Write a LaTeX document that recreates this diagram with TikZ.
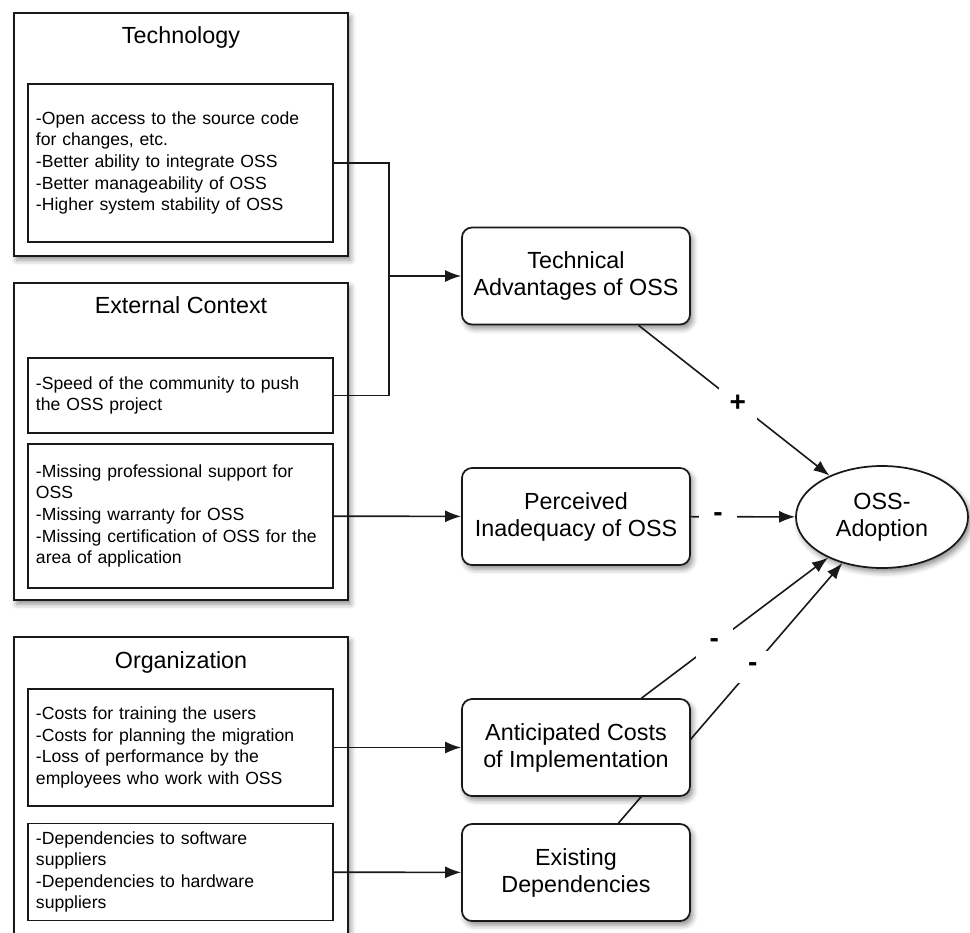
\documentclass[tikz,border=0pt]{standalone}
\usepackage{fontspec}
\setmainfont{Liberation Sans}
\usetikzlibrary{positioning, shapes.geometric, shadows.blur, arrows.meta, backgrounds}

\tikzset{
	shade/.style={blur shadow={shadow xshift=2pt, shadow yshift=-3pt, shadow blur radius=4pt, shadow opacity=45}},
	outerbox/.style={draw=black!90, line width=1.5pt, fill=white, minimum width=250.5pt, shade},
	title/.style={font=\fontsize{17.5}{20.25}\selectfont},
	listbox/.style={draw=black!90, line width=1pt, fill=white, minimum width=228.75pt, text width=216.75pt, inner sep=6pt, align=left, font=\fontsize{13.2}{16.2}\selectfont},
	factor/.style={draw=black!90, line width=1.3pt, fill=white, rounded corners=7.5pt, minimum width=171pt, minimum height=72.75pt, align=center, font=\fontsize{17.5}{20.25}\selectfont, shade},
	sign/.style={fill=white, minimum width=28pt, minimum height=24pt, inner sep=0pt, font=\bfseries\fontsize{21}{24}\selectfont},
	link/.style={draw=black!90, line width=1.2pt},
	>={Latex[length=12pt, width=9pt]}
}

\begin{document}
\begin{tikzpicture}[x=0.75pt, y=-0.75pt]
			\useasboundingbox (0, 0) rectangle (970, 932);
			
			% left column
			\node (0) at (181, 134.5) [outerbox, minimum height=182.25pt] {};
			\node (1) at (181, 37) [title] {Technology};
			\node (2) at (180.5, 163) [listbox, minimum height=118.5pt] {-Open access to the source code\\for changes, etc.\\-Better ability to integrate OSS\\-Better manageability of OSS\\-Higher system stability of OSS};
			
			\node (3) at (181, 441.5) [outerbox, minimum height=237.75pt] {};
			\node (4) at (181, 305) [title] {External Context};
			\node (5) at (180.5, 395.5) [listbox, minimum height=56.25pt] {-Speed of the community to push\\the OSS project};
			\node (6) at (180.5, 516) [listbox, minimum height=108pt] {-Missing professional support for\\OSS\\-Missing warranty for OSS\\-Missing certification of OSS for the\\area of application};
			
			\node (7) at (181, 793.5) [outerbox, minimum height=234.75pt] {};
			\node (8) at (181, 662) [title] {Organization};
			\node (9) at (180.5, 747.5) [listbox, minimum height=87.75pt] {-Costs for training the users\\-Costs for planning the migration\\-Loss of performance by the\\employees who work with OSS};
			\node (10) at (180.5, 872) [listbox, minimum height=72pt] {-Dependencies to software\\suppliers\\-Dependencies to hardware\\suppliers};
			
			% middle column
			\node (11) at (576, 276) [factor] {Technical\\Advantages of OSS};
			\node (12) at (576, 516.5) [factor] {Perceived\\Inadequacy of OSS};
			\node (13) at (576, 747.5) [factor] {Anticipated Costs\\of Implementation};
			\node (14) at (576, 872.5) [factor] {Existing\\Dependencies};
			
			\node (15) at (882, 517) [ellipse, draw=black!90, line width=1.3pt, fill=white, minimum width=129pt, minimum height=76.5pt, inner sep=0pt, align=center, font=\fontsize{17.5}{20.25}\selectfont, shade] {OSS-\\Adoption};
			
			\coordinate (j) at (389, 276);
			
			\draw[link] (2.east) -| (j) |- (5.east);
			\draw[link, ->] (j) to (11);
			\draw[link, ->] (6) to (12);
			\draw[link, ->] (9) to (13);
			\draw[link, ->] (10) to (14);
			
			\draw[link, ->] (11) to node[sign, pos=.52] {+} (15);
			\draw[link, ->] (12) to node[sign, pos=.26] {-} (15);
			\draw[link, ->] (13) to node[sign, pos=.39] {-} (15);
			\begin{scope}[on background layer]
				\draw[link, ->] (14) to node[sign, pos=.6] {-} (15);
			\end{scope}
		\end{tikzpicture}
\end{document}
